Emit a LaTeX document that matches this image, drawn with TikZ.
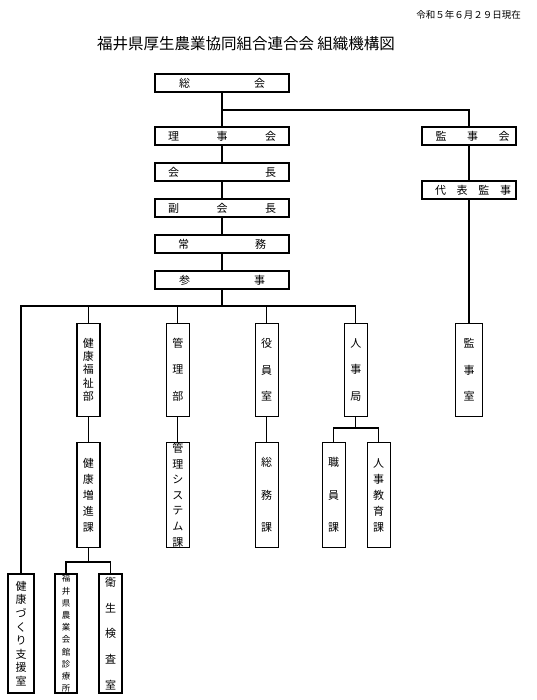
\documentclass[tikz,border=0pt]{standalone}
\usepackage{fontspec}
\setmainfont{Noto Sans CJK JP}
\newcommand\spreadtext[2]{\hbox to #1{#2}}
\tikzset{
  hb/.style={draw, line width=1.4pt, minimum width=134pt, minimum height=18pt, inner sep=0pt,
    font=\fontsize{11}{13}\selectfont},
  vb/.style={draw, line width=1.4pt, inner sep=0pt, align=center,
    font=\fontsize{11}{#1}\selectfont},
  lv1/.style={minimum width=23pt, minimum height=93pt},
  lv2/.style={minimum width=23pt, minimum height=105pt},
  lv3/.style={minimum height=119pt},
  conn/.style={line width=1.1pt},
}
\begin{document}
\begin{tikzpicture}[x=1pt,y=-1pt]
\useasboundingbox (0,0) rectangle (536,700);
% header
\node[anchor=east, font=\fontsize{9.5}{11}\selectfont, inner sep=0pt] (date) at (521,15) {令和５年６月２９日現在};
\node[font=\fontsize{15.5}{18}\selectfont, inner sep=0pt] (title) at (246,44) {福井県厚生農業協同組合連合会 組織機構図};
% central column
\node[hb] (soukai) at (222,83) {\spreadtext{86pt}{総\hfill 会}};
\node[hb] (riji) at (222,136) {\spreadtext{108pt}{理\hfill 事\hfill 会}};
\node[hb] (kaicho) at (222,172) {\spreadtext{108pt}{会\hfill 長}};
\node[hb] (fuku) at (222,208) {\spreadtext{108pt}{副\hfill 会\hfill 長}};
\node[hb] (jomu) at (222,244) {\spreadtext{88pt}{常\hfill 務}};
\node[hb] (sanji) at (222,280) {\spreadtext{86pt}{参\hfill 事}};
% audit column
\node[hb, minimum width=94pt] (kanjikai) at (469,136) {\hbox{\hspace{7pt}\spreadtext{74pt}{監\hfill 事\hfill 会}}};
\node[hb, minimum width=94pt] (daihyo) at (469,190) {\hbox{\hspace{8pt}\spreadtext{76pt}{代\hfill 表\hfill 監\hfill 事}}};
% level 1
\node[vb=13.3, lv1] (fukushi) at (88.3,369.7) {健\\康\\福\\祉\\部};
\node[vb=26.7, lv1] (kanri) at (177.8,369.7) {管\\理\\部};
\node[vb=26.7, lv1] (yakuin) at (266.7,369.7) {役\\員\\室};
\node[vb=26.7, lv1] (jinji) at (355.8,369.7) {人\\事\\局};
\node[vb=26.7, lv1, minimum width=27pt] (kanjishitsu) at (469,369.7) {監\\事\\室};
% level 2
\node[vb=16, lv2] (zoshin) at (88.3,495) {健\\康\\増\\進\\課};
\node[vb=15.6, lv2] (system) at (177.8,495) {管\\理\\シ\\ス\\テ\\ム\\課};
\node[vb=32.5, lv2] (somu) at (266.7,495) {総\\務\\課};
\node[vb=32.5, lv2] (shokuin) at (333.7,495) {職\\員\\課};
\node[vb=16, lv2] (kyoiku) at (378.7,495) {人\\事\\教\\育\\課};
% level 3
\node[vb=13.6, lv3, minimum width=26pt] (zukuri) at (21,633.5) {健\\康\\づ\\く\\り\\支\\援\\室};
\node[vb=12.2, lv3, minimum width=22pt, font=\fontsize{8.5}{12.2}\selectfont] (shinryo) at (66,633.5) {福\\井\\県\\農\\業\\会\\館\\診\\療\\所};
\node[vb=25.8, lv3, minimum width=23pt] (eisei) at (110.5,633.5) {衛\\生\\検\\査\\室};
% connectors
\coordinate (b1) at (222,110);
\coordinate (b2) at (222,306);
\coordinate (b3) at (355.8,428);
\coordinate (b4) at (88.3,562);
\draw[conn] (soukai) -- (riji);
\draw[conn] (b1) -| (kanjikai.north);
\draw[conn] (riji) -- (kaicho);
\draw[conn] (kaicho) -- (fuku);
\draw[conn] (fuku) -- (jomu);
\draw[conn] (jomu) -- (sanji);
\draw[conn] (sanji.south) -- (b2);
\draw[conn] (kanjikai) -- (daihyo);
\draw[conn] (daihyo) -- (kanjishitsu);
\draw[conn] (zukuri.north) |- (b2) -| (jinji.north);
\draw[conn] (fukushi.north) -- (fukushi.north |- b2);
\draw[conn] (kanri.north) -- (kanri.north |- b2);
\draw[conn] (yakuin.north) -- (yakuin.north |- b2);
\draw[conn] (fukushi) -- (zoshin);
\draw[conn] (kanri) -- (system);
\draw[conn] (yakuin) -- (somu);
\draw[conn] (jinji.south) -- (b3);
\draw[conn] (shokuin.north) |- (b3) -| (kyoiku.north);
\draw[conn] (zoshin.south) -- (b4);
\draw[conn] (shinryo.north) |- (b4) -| (eisei.north);
\end{tikzpicture}
\end{document}
